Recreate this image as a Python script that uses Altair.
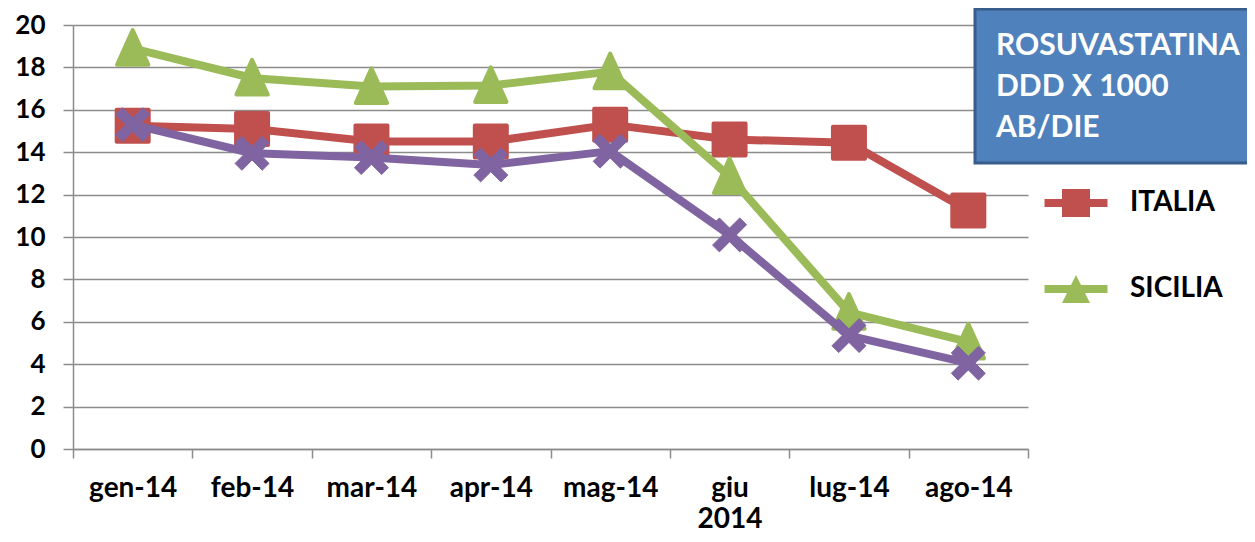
import altair as alt
import pandas as pd

months = ["gen-14", "feb-14", "mar-14", "apr-14", "mag-14", "giu 2014", "lug-14", "ago-14"]
italia = [15.25, 15.1, 14.5, 14.5, 15.3, 14.6, 14.45, 11.25]
sicilia = [18.9, 17.5, 17.1, 17.15, 17.8, 12.85, 6.45, 5.05]
serie3 = [15.3, 13.95, 13.75, 13.4, 14.05, 10.1, 5.35, 4.05]
series_names = ["ITALIA", "SICILIA", "SERIE 3"]
series_colors = ["#C0504D", "#9BBB59", "#8064A2"]
legend_names = ["ITALIA", "SICILIA"]
box_lines = ["ROSUVASTATINA", "DDD X 1000", "AB/DIE"]
y_ticks = [0, 2, 4, 6, 8, 10, 12, 14, 16, 18, 20]

rows = []
for name, vals in zip(series_names, [italia, sicilia, serie3]):
    for m, v in zip(months, vals):
        rows.append({"month": m, "series": name, "value": v})
df = pd.DataFrame(rows)

FONT = "Lato"
GRAY = "#8C8C8C"

x_enc = alt.X(
    "month:N",
    sort=months,
    scale=alt.Scale(type="band", domain=months, paddingInner=0, paddingOuter=0),
    axis=alt.Axis(
        title=None, labelAngle=0, tickBand="extent", tickSize=9, grid=False,
        labelExpr="split(datum.label, ' ')", labelLineHeight=31,
        labelPadding=16, labelFontSize=28, labelFontWeight="bold", labelFont=FONT,
        labelColor="black", domainColor=GRAY, tickColor=GRAY, domainWidth=1.5, tickWidth=1.5,
    ),
)
y_enc = alt.Y(
    "value:Q",
    scale=alt.Scale(domain=[0, 20], nice=False, zero=True),
    axis=alt.Axis(
        title=None, values=y_ticks, tickSize=10, grid=True, gridColor=GRAY, gridWidth=1.5,
        labelPadding=18, labelFontSize=26, labelFontWeight="bold", labelFont=FONT,
        labelColor="black", domainColor=GRAY, tickColor=GRAY, domainWidth=1.5, tickWidth=1.5,
    ),
)

base = alt.Chart(df)
x_path = ("M-0.6,-1 L0,-0.4 L0.6,-1 L1,-0.6 L0.4,0 L1,0.6 L0.6,1 L0,0.4 "
          "L-0.6,1 L-1,0.6 L-0.4,0 L-1,-0.6 Z")
shapes = ["square", "M0,-1.1 L0.95,1.0 L-0.95,1.0 Z", x_path]
sizes = [1024, 1089, 1156]
stroke_widths = [4, 4, 1]

layers = []
for name, col, shp, sz, sw in zip(series_names, series_colors, shapes, sizes, stroke_widths):
    sub = base.transform_filter(alt.datum.series == name)
    layers.append(
        sub.mark_line(color=col, strokeWidth=8, strokeJoin="round", strokeCap="round").encode(x=x_enc, y=y_enc)
    )
    layers.append(
        sub.mark_point(
            shape=shp, size=sz, filled=True, color=col, opacity=1,
            stroke=col, strokeWidth=sw, strokeJoin="round",
        ).encode(x=x_enc, y=y_enc)
    )

leg_paths = [
    "M-1.125,-0.143 L1.125,-0.143 L1.125,0.143 L-1.125,0.143 Z M-0.5,-0.5 L0.5,-0.5 L0.5,0.5 L-0.5,0.5 Z",
    "M-1.125,-0.143 L1.125,-0.143 L1.125,0.143 L-1.125,0.143 Z M0,-0.5 L0.5,0.5 L-0.5,0.5 Z",
]
legend_def = alt.Legend(
    title=None, orient="none", legendX=975, legendY=150,
    symbolSize=3136, symbolStrokeWidth=0, labelOffset=26, rowPadding=44,
    labelFontSize=28, labelFontWeight="bold", labelFont=FONT, labelColor="black",
    padding=0,
)
legend_layer = base.transform_filter(alt.datum.value < -1000).mark_point(filled=True, opacity=1).encode(
    x=x_enc, y=y_enc,
    color=alt.Color("series:N", scale=alt.Scale(domain=legend_names, range=series_colors[:2]), legend=legend_def),
    shape=alt.Shape("series:N", scale=alt.Scale(domain=legend_names, range=leg_paths), legend=legend_def),
)

one = alt.Chart(pd.DataFrame({"k": [0]}))
box = one.mark_rect(fill="#4F81BD", stroke="#385D8A", strokeWidth=3).encode(
    x=alt.value(902), x2=alt.value(1250), y=alt.value(-16), y2=alt.value(138)
)
box_text = one.mark_text(
    text=box_lines, align="left", baseline="alphabetic", lineHeight=41,
    fontSize=30, fontWeight="bold", font=FONT, color="white",
).encode(x=alt.value(923), y=alt.value(30))

chart = alt.layer(*layers, legend_layer, box, box_text).properties(
    width=955, height=424,
    autosize=alt.AutoSizeParams(type="none"),
    padding={"left": 65, "top": 17, "right": 219, "bottom": 85},
).configure_view(strokeWidth=0)

chart.save("out.html", embed_options={"renderer": "svg", "actions": False})
